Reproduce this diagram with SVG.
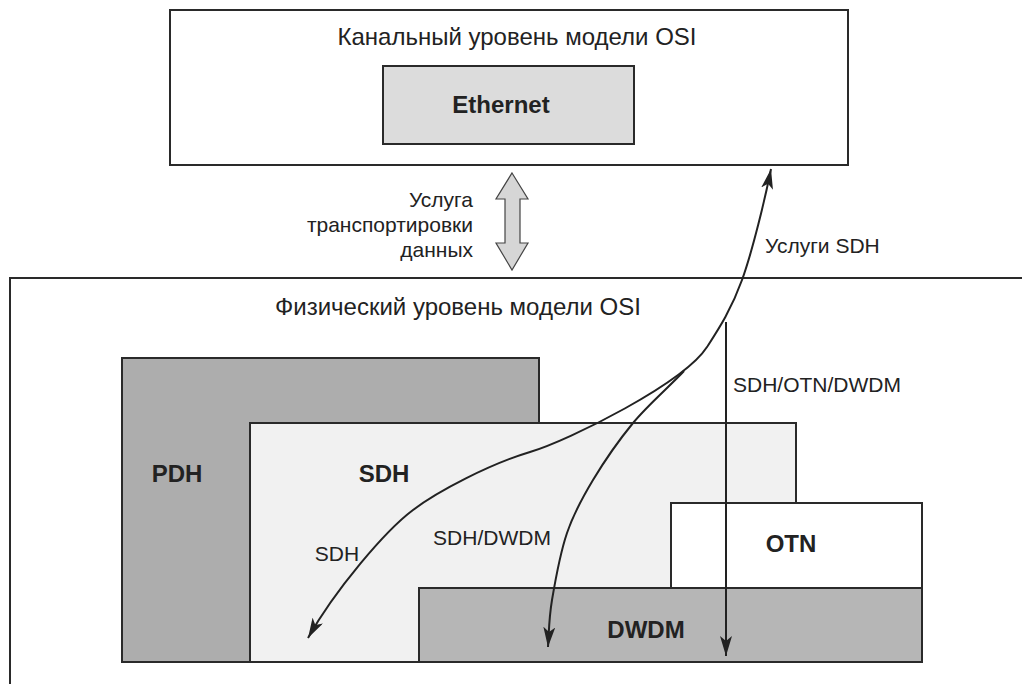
<svg xmlns="http://www.w3.org/2000/svg" width="1022" height="684" viewBox="0 0 1022 684">
<style>
.box{stroke:#2a2a2a;stroke-width:2}
.h{font-family:"Liberation Sans",Arial,sans-serif;font-size:24px;fill:#222}
.t{font-family:"Liberation Sans",Arial,sans-serif;font-size:21px;fill:#222}
.b{font-family:"Liberation Sans",Arial,sans-serif;font-size:24px;font-weight:bold;fill:#222}
.c{fill:none;stroke:#222;stroke-width:2}
</style>
<defs>
<marker id="ah" markerUnits="userSpaceOnUse" markerWidth="22" markerHeight="12" refX="20" refY="6" orient="auto-start-reverse">
<path d="M0,0 L20,6 L0,12 L5,6 z" fill="#222"/>
</marker>
</defs>
<rect width="1022" height="684" fill="#ffffff"/>
<g id="physical">
<rect class="box" x="10" y="278" width="1030" height="420" fill="#ffffff"/>
<text class="h" x="275" y="315">Физический уровень модели OSI</text>
</g>
<g id="datalink">
<rect class="box" x="170" y="10" width="678" height="155" fill="#ffffff"/>
<text class="h" x="517" y="45" text-anchor="middle">Канальный уровень модели OSI</text>
</g>
<g id="ethernet">
<rect class="box" x="383" y="66" width="251" height="78" fill="#dcdcdc"/>
<text class="b" x="501" y="113" text-anchor="middle">Ethernet</text>
</g>
<g id="pdh">
<rect class="box" x="122" y="358" width="417" height="304" fill="#adadad"/>
<text class="b" x="177" y="482" text-anchor="middle">PDH</text>
</g>
<g id="sdh">
<rect class="box" x="250" y="423" width="546" height="239" fill="#f1f1f1"/>
<text class="b" x="384" y="482" text-anchor="middle">SDH</text>
</g>
<g id="otn">
<rect class="box" x="671" y="503" width="251" height="85" fill="#ffffff"/>
<text class="b" x="791" y="552" text-anchor="middle">OTN</text>
</g>
<g id="dwdm">
<rect class="box" x="419" y="588" width="503" height="74" fill="#b6b6b6"/>
<text class="b" x="646" y="638" text-anchor="middle">DWDM</text>
</g>
<g id="transport">
<polygon points="512,173 528,199 520,199 520,243 528,243 512,270 496,243 505,243 505,199 496,199" fill="#d6d6d6" stroke="#444" stroke-width="1.2"/>
<text class="t" x="473" y="207" text-anchor="end">Услуга</text>
<text class="t" x="473" y="232" text-anchor="end">транспортировки</text>
<text class="t" x="473" y="257" text-anchor="end">данных</text>
</g>
<g id="connectors">
<path class="c" d="M771,169 C765,199 752.7,250.3 742,280 C731.3,309.7 718.6,329 707,347 C683.8,383 570,440 530,452 C490,464 438,491 413,510 C385,531 335,590 308,638" marker-start="url(#ah)" marker-end="url(#ah)"/>
<path class="c" d="M684,371 C670,386 647.3,405.5 633,423 C618.7,440.5 604,461.7 593,480 C582,498.3 573.8,513 567,533 C560.2,553 555.2,581 552,600 C548.8,619 549,632 548,647" marker-end="url(#ah)"/>
<path class="c" d="M726,322 L726,656" marker-end="url(#ah)"/>
<text class="t" x="765" y="253">Услуги SDH</text>
<text class="t" x="733" y="392">SDH/OTN/DWDM</text>
<text class="t" x="492" y="545" text-anchor="middle">SDH/DWDM</text>
<text class="t" x="337" y="561" text-anchor="middle">SDH</text>
</g>
</svg>
